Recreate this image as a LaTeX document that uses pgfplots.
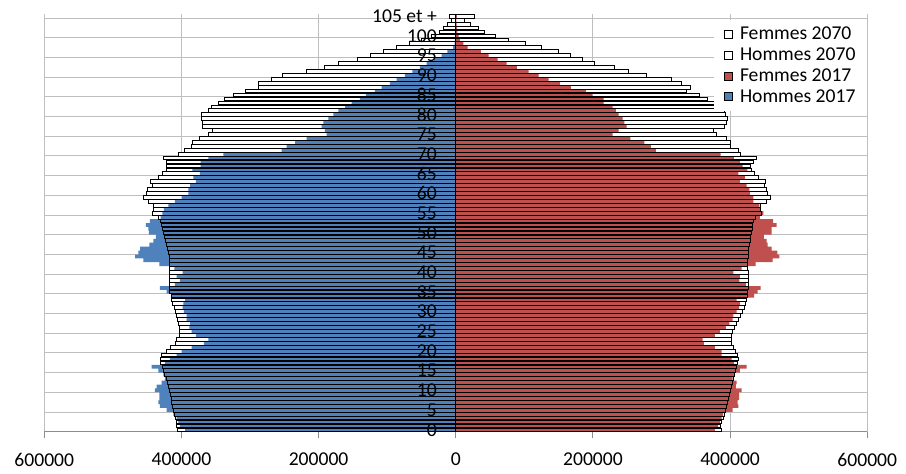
\documentclass[border=0pt]{standalone}
\usepackage{fontspec}
\setmainfont{Carlito}
\usepackage{pgfplots}
\pgfplotsset{compat=1.18}
\usepackage{pgfplotstable}
\definecolor{hblue}{HTML}{4F81BD}
\definecolor{fred}{HTML}{C0504D}
\definecolor{gridgray}{HTML}{BEBEBE}
\definecolor{axisgray}{HTML}{8C8C8C}
\pgfplotstableread{
age hm17 fm17 hm70 fm70
0 394800 378000 406000 387700
1 402100 382700 406900 385200
2 404600 385200 407900 387700
3 406900 387700 409400 390000
4 411800 390000 410900 391500
5 421600 403700 411800 392900
6 431300 411900 413300 394900
7 433700 411000 414300 395900
8 432300 413300 415200 397300
9 432300 413300 416700 398800
10 438600 416800 418200 400800
11 436100 408500 419200 402300
12 428800 409500 420600 403700
13 424000 403700 422500 404600
14 426500 407100 424400 405600
15 433700 414400 426500 407500
16 443400 424100 427900 409500
17 424000 405600 431300 410400
18 416700 402300 431300 411900
19 406900 387700 428800 411000
20 399700 387700 422500 408100
21 385100 377900 416700 404600
22 367100 361900 409400 402300
23 360800 360000 406900 402300
24 378800 377900 403100 402300
25 385100 385200 403100 403700
26 388500 393900 403100 406100
27 387500 398800 404000 409500
28 392400 403700 406000 411900
29 392400 404600 406900 414400
30 396300 409500 409400 417800
31 398200 413300 410900 420200
32 397300 414400 412800 421600
33 394800 409500 414300 423100
34 414300 435200 415300 424600
35 421600 440200 418200 425500
36 431300 444500 417700 426500
37 409400 423100 417700 426500
38 402100 413400 417700 426500
39 406900 414400 417700 426500
40 398200 404600 417700 426500
41 410400 416800 417700 425500
42 432300 437200 417700 425500
43 455600 462000 417700 425500
44 467700 471700 417700 426000
45 462900 468800 419200 426500
46 460400 460600 420600 427000
47 446900 454800 421500 428000
48 441000 453300 423000 428900
49 437100 449400 425000 430000
50 447300 460600 425900 430800
51 448300 460600 427900 431900
52 451700 467800 429300 432900
53 445900 462900 431300 433800
54 430300 443500 433800 436200
55 427900 448400 441900 445000
56 425500 445000 441000 443500
57 419200 442500 441000 443500
58 409400 433800 447800 453300
59 399600 433800 455600 459100
60 390000 428900 450700 454200
61 390000 428000 449800 453300
62 387500 424100 442500 449400
63 378800 414400 444800 451800
64 382700 421600 433800 441100
65 373000 411900 427400 435300
66 384200 425000 422500 431400
67 372000 418300 421500 430000
68 372000 414400 422500 433800
69 360800 405600 426400 437700
70 339000 386200 404600 414400
71 253900 291900 395800 411900
72 246600 284600 386000 399800
73 234400 274900 384100 399800
74 217400 254500 373900 393900
75 188300 228700 360800 380300
76 190700 237500 355000 375500
77 195600 249100 369100 391000
78 193100 245700 369100 393900
79 185800 243300 371500 395900
80 178600 237500 370500 392500
81 171300 233600 360800 391000
82 161500 228700 355900 385000
83 151800 215600 346200 380300
84 139700 215600 337500 366700
85 130900 199600 324400 355100
86 117800 189800 306400 336600
87 108100 168000 287900 341500
88 95900 151900 287900 329300
89 86200 135400 269400 314700
90 74100 120800 252400 278300
91 63400 106200 217400 251600
92 52200 89200 191700 231200
93 42500 74200 171300 202000
94 31800 61000 143500 185000
95 20600 47900 125000 167500
96 12300 36700 105600 149500
97 4000 17300 87200 125200
98 1800 11000 67700 100900
99 1200 6000 49800 76600
100 900 4000 35200 58100
101 600 2500 24000 41600
102 400 1800 18200 32900
103 300 1200 12300 20700
104 200 800 6000 12000
105 300 1500 9400 27000
}\data
\begin{document}
\begin{tikzpicture}
\useasboundingbox (-33.2pt,-31.7pt) rectangle (646.3pt,323.8pt);
\begin{axis}[
  width=617.25pt, height=313.2pt, scale only axis,
  xmin=-600000, xmax=600000, ymin=-0.5, ymax=105.5,
  xbar, bar width=0.95,
  axis x line=bottom, axis y line=center,
  axis line style={-, draw=axisgray, line width=0.75pt},
  xtick={-600000,-400000,-200000,0,200000,400000,600000},
  xticklabels={600000,400000,200000,0,200000,400000,600000},
  scaled x ticks=false,
  ytick={-0.5,4.5,...,104.5}, yticklabels={},
  xmajorgrids, ymajorgrids,
  grid style={gridgray, line width=0.75pt},
  tick align=outside, major tick length=5pt,
  tick style={axisgray, line width=0.75pt},
  hide obscured x ticks=false, hide obscured y ticks=false,
  xticklabel style={font=\fontsize{14.7}{17}\selectfont, yshift=-7.5pt},
  legend style={at={(0.8137,0.986)}, anchor=north west, draw=none, fill=white,
    font=\fontsize{14.7}{17}\selectfont, inner xsep=7pt, inner ysep=3pt, row sep=0.6pt},
  legend cell align=left, reverse legend,
  legend image code/.code={\draw[#1, line width=0.6pt] (0pt,-3pt) rectangle (6.2pt,3pt);\path (9.8pt,0pt);},
]
\addplot[fill=white, draw=none, bar shift=0pt, forget plot] table[x expr=-\thisrow{hm70}, y=age]{\data};
\addplot[fill=white, draw=none, bar shift=0pt, forget plot] table[x=fm70, y=age]{\data};
\addplot[fill=hblue, draw=none, bar shift=0pt] table[x expr=-\thisrow{hm17}, y=age]{\data};
\addlegendentry{Hommes 2017}
\addplot[fill=fred, draw=none, bar shift=0pt] table[x=fm17, y=age]{\data};
\addlegendentry{Femmes 2017}
\addplot[fill=none, draw=black, line width=0.5pt, bar shift=0pt] table[x expr=-\thisrow{hm70}, y=age]{\data};
\addlegendentry{Hommes 2070}
\addplot[fill=none, draw=black, line width=0.5pt, bar shift=0pt] table[x=fm70, y=age]{\data};
\addlegendentry{Femmes 2070}
\end{axis}
\begin{axis}[
  width=617.25pt, height=313.2pt, scale only axis,
  xmin=-600000, xmax=600000, ymin=-0.5, ymax=105.5,
  hide x axis,
  axis y line=center, y axis line style={draw=none},
  ytick={0,5,...,105},
  yticklabels={0,5,10,15,20,25,30,35,40,45,50,55,60,65,70,75,80,85,90,95,100,105 et +},
  major tick length=0pt, hide obscured y ticks=false,
  yticklabel style={font=\fontsize{14.7}{17}\selectfont, anchor=east, inner sep=0pt, xshift=-14pt},
]
\end{axis}
\end{tikzpicture}
\end{document}
